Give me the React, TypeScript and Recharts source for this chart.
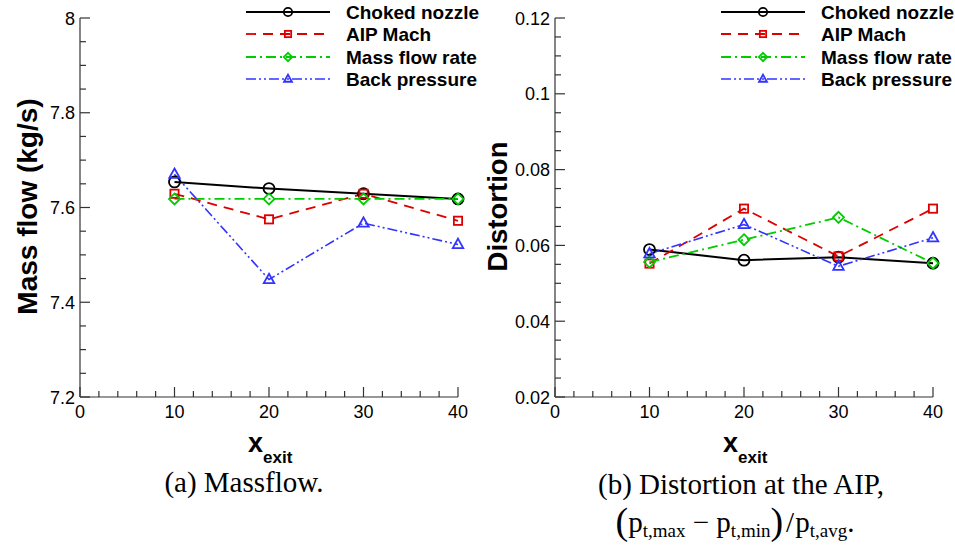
import { LineChart, Line, XAxis, YAxis, Legend } from "recharts"

// x positions of the nozzle exit
const xExit = [10, 20, 30, 40]

// (a) mass flow, kg/s
const chokedMass = [7.654, 7.64, 7.629, 7.618]
const aipMachMass = [7.629, 7.575, 7.629, 7.572]
const massFlowMass = [7.618, 7.618, 7.618, 7.618]
const backPressureMass = [7.67, 7.448, 7.567, 7.522]

// (b) distortion at the AIP
const chokedDist = [0.0589, 0.0561, 0.0569, 0.0553]
const aipMachDist = [0.0552, 0.0697, 0.0571, 0.0697]
const massFlowDist = [0.0556, 0.0615, 0.0674, 0.0553]
const backPressureDist = [0.0578, 0.0655, 0.0545, 0.062]

const xTicks = [0, 2, 4, 6, 8, 10, 12, 14, 16, 18, 20, 22, 24, 26, 28, 30, 32, 34, 36, 38, 40]
const massTicks = [7.2, 7.25, 7.3, 7.35, 7.4, 7.45, 7.5, 7.55, 7.6, 7.65, 7.7, 7.75, 7.8, 7.85, 7.9, 7.95, 8]
const distTicks = [
  0.02, 0.025, 0.03, 0.035, 0.04, 0.045, 0.05, 0.055, 0.06, 0.065, 0.07,
  0.075, 0.08, 0.085, 0.09, 0.095, 0.1, 0.105, 0.11, 0.115, 0.12,
]

const seriesNames = ["Choked nozzle", "AIP Mach", "Mass flow rate", "Back pressure"]

type Marker = "circle" | "square" | "diamond" | "triangle"

const styles: { key: string; color: string; dash?: string; width: number; marker: Marker }[] = [
  { key: "choked", color: "#000000", width: 2, marker: "circle" },
  { key: "aip", color: "#dd0000", dash: "10 7", width: 1.8, marker: "square" },
  { key: "mass", color: "#00cc00", dash: "10 4 2 4", width: 1.8, marker: "diamond" },
  { key: "back", color: "#3333ff", dash: "10 3 2 3 2 3", width: 1.6, marker: "triangle" },
]

const sans = "'Liberation Sans', Arial, sans-serif"
const axisColor = "#333"

const buildRows = (cols: number[][]) =>
  xExit.map((x, i) => ({
    x,
    choked: cols[0][i],
    aip: cols[1][i],
    mass: cols[2][i],
    back: cols[3][i],
  }))

const massData = buildRows([chokedMass, aipMachMass, massFlowMass, backPressureMass])
const distData = buildRows([chokedDist, aipMachDist, massFlowDist, backPressureDist])

const drawMarker = (kind: Marker, cx: number, cy: number, color: string, s: number, key?: number) => {
  const common = { stroke: color, strokeWidth: 1.8, fill: "none" }
  if (kind === "circle") return <circle key={key} cx={cx} cy={cy} r={s} {...common} />
  if (kind === "square")
    return <rect key={key} x={cx - s * 0.75} y={cy - s * 0.75} width={s * 1.5} height={s * 1.5} {...common} />
  if (kind === "diamond")
    return (
      <polygon key={key} points={`${cx},${cy - s} ${cx + s},${cy} ${cx},${cy + s} ${cx - s},${cy}`} {...common} />
    )
  return (
    <polygon
      key={key}
      points={`${cx},${cy - s * 1.05} ${cx + s * 0.95},${cy + s * 0.65} ${cx - s * 0.95},${cy + s * 0.65}`}
      {...common}
    />
  )
}

const dotFor = (kind: Marker, color: string) => (props: any) => {
  const { cx, cy, index } = props
  if (cx == null || cy == null) return <g key={index} />
  return drawMarker(kind, cx, cy, color, 5.5, index)
}

const fmt = (v: number) => String(Number(v.toFixed(3)))

const YTick = (props: any) => {
  const { x, y, payload, index } = props
  const major = index % 4 === 0
  return (
    <g>
      <line x1={x} y1={y} x2={x + (major ? 10 : 6)} y2={y} stroke={axisColor} strokeWidth={1.2} />
      {major && (
        <text x={x - 5} y={y} dy={6.5} textAnchor="end" fontSize={18} fontFamily={sans} fill="#000">
          {fmt(payload.value)}
        </text>
      )}
    </g>
  )
}

const XTick = (props: any) => {
  const { x, y, payload, index } = props
  const major = index % 5 === 0
  return (
    <g>
      <line x1={x} y1={y} x2={x} y2={y - (major ? 10 : 6)} stroke={axisColor} strokeWidth={1.2} />
      {major && (
        <text x={x} y={y + 21} textAnchor="middle" fontSize={18} fontFamily={sans} fill="#000">
          {payload.value}
        </text>
      )}
    </g>
  )
}

const LegendBox = () => (
  <svg width={240} height={92} style={{ display: "block" }}>
    {styles.map((s, i) => {
      const cy = [12, 34, 57, 79][i]
      return (
        <g key={s.key}>
          <line x1={0} y1={cy} x2={84} y2={cy} stroke={s.color} strokeWidth={s.width} strokeDasharray={s.dash} />
          {drawMarker(s.marker, 42, cy, s.color, 4.2)}
          <text x={100} y={cy} dy={6.5} fontSize={19} fontWeight="bold" fontFamily={sans} fill="#000">
            {seriesNames[i]}
          </text>
        </g>
      )
    })}
  </svg>
)

type PanelProps = {
  data: Record<string, number>[]
  ticks: number[]
  domain: [number, number]
  yLabel: string
  yLabelX: number
  yLabelSize: number
}

const Panel = ({ data, ticks, domain, yLabel, yLabelX, yLabelSize }: PanelProps) => (
  <LineChart width={480} height={470} data={data} margin={{ top: 18, right: 22, bottom: 0, left: 0 }}>
    <XAxis
      dataKey="x"
      type="number"
      domain={[0, 40]}
      ticks={xTicks}
      interval={0}
      height={73}
      tickSize={0}
      tickMargin={0}
      tickLine={false}
      tick={<XTick />}
      axisLine={{ stroke: axisColor, strokeWidth: 1.2 }}
      label={{
        content: (p: any) => {
          const vb = p.viewBox
          const cx = vb.x + vb.width / 2
          return (
            <text x={cx - 21} y={vb.y + 55} fontFamily={sans} fontWeight="bold" fill="#000">
              <tspan fontSize={27}>x</tspan>
              <tspan fontSize={17} dy={11}>
                exit
              </tspan>
            </text>
          )
        },
      }}
    />
    <YAxis
      type="number"
      domain={domain}
      ticks={ticks}
      interval={0}
      width={80}
      tickSize={0}
      tickMargin={0}
      tickLine={false}
      tick={<YTick />}
      allowDataOverflow
      axisLine={{ stroke: axisColor, strokeWidth: 1.2 }}
      label={{
        content: (p: any) => {
          const vb = p.viewBox
          const cy = vb.y + vb.height / 2 - 1
          return (
            <text
              x={yLabelX}
              y={cy}
              transform={`rotate(-90 ${yLabelX} ${cy})`}
              textAnchor="middle"
              fontSize={yLabelSize}
              fontWeight="bold"
              fontFamily={sans}
              fill="#000"
            >
              {yLabel}
            </text>
          )
        },
      }}
    />
    <Legend
      layout="vertical"
      align="center"
      verticalAlign="middle"
      wrapperStyle={{ top: 0, left: 246, width: 240 }}
      content={() => <LegendBox />}
    />
    {styles.map((s, i) => (
      <Line
        key={s.key}
        dataKey={s.key}
        name={seriesNames[i]}
        type="linear"
        stroke={s.color}
        strokeWidth={s.width}
        strokeDasharray={s.dash}
        dot={dotFor(s.marker, s.color)}
        activeDot={false}
        isAnimationActive={false}
      />
    ))}
  </LineChart>
)

const serif = "'Liberation Serif', 'Times New Roman', serif"
const sub = { fontSize: 19, verticalAlign: "-5px" } as const
const bigParen = { fontSize: 38, lineHeight: "10px", position: "relative" as const, top: 2 }

export default function App() {
  return (
    <div style={{ position: "absolute", left: 0, top: 0, width: 955, height: 548, background: "#fff" }}>
      <div style={{ position: "absolute", left: 0, top: 0 }}>
        <Panel data={massData} ticks={massTicks} domain={[7.2, 8]} yLabel="Mass flow (kg/s)" yLabelX={37} yLabelSize={28} />
      </div>
      <div style={{ position: "absolute", left: 475, top: 0 }}>
        <Panel data={distData} ticks={distTicks} domain={[0.02, 0.12]} yLabel="Distortion" yLabelX={32} yLabelSize={27.5} />
      </div>
      <div
        style={{
          position: "absolute",
          left: 0,
          width: 488,
          top: 465,
          textAlign: "center",
          fontFamily: serif,
          fontSize: 29,
          lineHeight: "34px",
        }}
      >
        (a) Massflow.
      </div>
      <div
        style={{
          position: "absolute",
          left: 541,
          width: 400,
          top: 465,
          textAlign: "center",
          fontFamily: serif,
          fontSize: 29,
          lineHeight: "38px",
        }}
      >
        <div>(b) Distortion at the AIP,</div>
        <div style={{ marginLeft: -12 }}>
          <span style={bigParen}>(</span>p<span style={sub}>t,max</span> − p<span style={sub}>t,min</span>
          <span style={bigParen}>)</span>
          <span style={{ marginLeft: 3, marginRight: 1 }}>/</span>p<span style={sub}>t,avg</span>.
        </div>
      </div>
    </div>
  )
}
